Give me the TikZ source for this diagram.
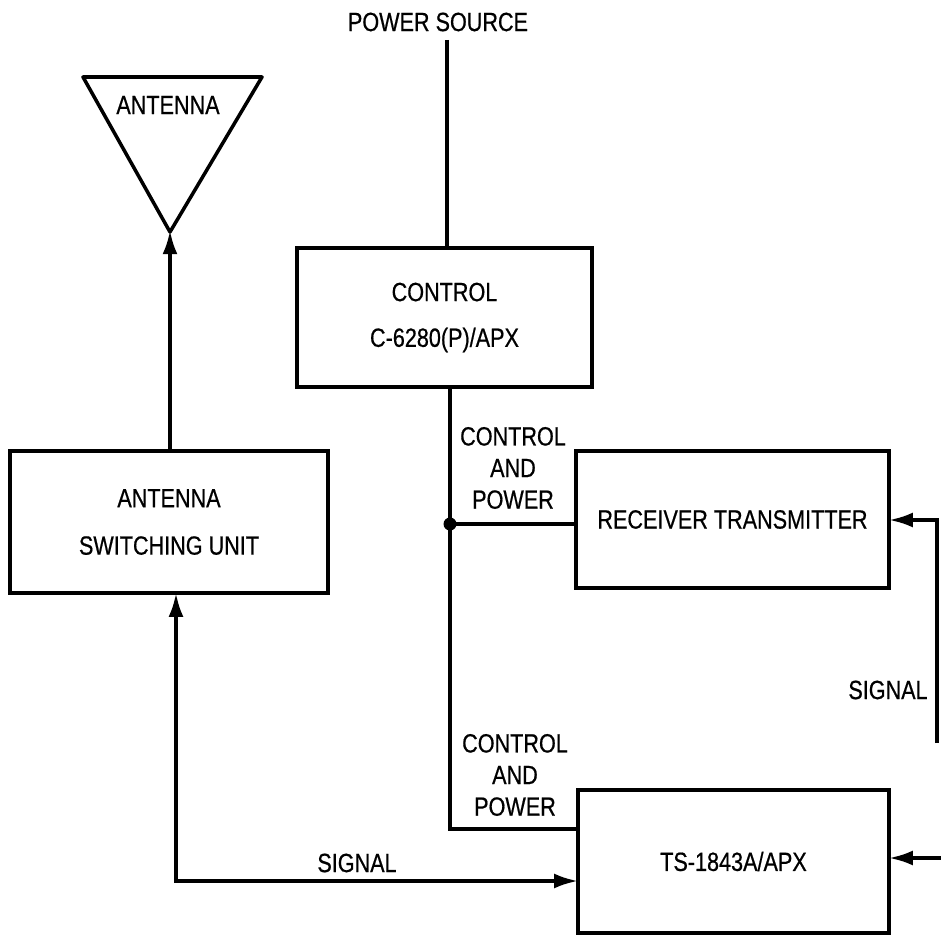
\documentclass[tikz,border=0pt]{standalone}
\usepackage{fontspec}
\setmainfont{Liberation Sans}[FakeStretch=0.82, FakeBold=0.6]
\usetikzlibrary{arrows.meta,positioning,calc}

\begin{document}
\begin{tikzpicture}[x=0.02cm, y=-0.02cm,
    unit/.style={rectangle, draw, line width=2pt, align=center, inner sep=0pt, font=\fontsize{15}{18}\selectfont},
    label/.style={align=center, inner sep=1pt, font=\fontsize{15}{18}\selectfont},
    line/.style={draw, line width=2pt},
    arrowline/.style={line, shorten >=-1pt, -{Latex[length=0.48cm, width=0.3cm]}},
    bothline/.style={line, shorten >=-1pt, shorten <=-1pt, {Latex[length=0.48cm, width=0.3cm]}-{Latex[length=0.48cm, width=0.3cm]}}]

    \useasboundingbox (0,0) rectangle (941,936);

    \node [unit, minimum width=5.9cm, minimum height=2.78cm] (control) at (444.5,317.5) {CONTROL\\[8pt]C-6280(P)/APX};
    \node [unit, minimum width=6.36cm, minimum height=2.84cm] (asu) at (169,522) {ANTENNA\\[9pt]SWITCHING UNIT};
    \node [unit, minimum width=6.26cm, minimum height=2.74cm] (rt) at (732.5,519.5) {RECEIVER TRANSMITTER};
    \node [unit, minimum width=6.22cm, minimum height=2.86cm] (ts) at (733.5,861.5) {TS-1843A/APX};

    \coordinate (antL) at (83,77);
    \coordinate (antR) at (262,77);
    \coordinate (antTip) at (170,232);
    \draw [line, line join=round] (antL) -- (antR) -- (antTip) -- cycle;
    \node [label] (antenna) at (168,105) {ANTENNA};

    \node [label] (power) at (438,22) {POWER SOURCE};
    \coordinate (powertop) at (447,40);
    \draw [line] (powertop) -- (powertop |- control.north);

    \draw [arrowline] (asu.north -| antTip) -- (antTip);

    \coordinate (junc) at (450,524);
    \coordinate (cpcorner) at (450,829);
    \draw [line] (control.south -| junc) |- (ts.west |- cpcorner);
    \draw [line] (junc) -- (rt.west |- junc);
    \fill (junc) circle [radius=0.13cm];
    \node [label] (cp1) at (513,468) {CONTROL\\AND\\POWER};
    \node [label] (cp2) at (515,775) {CONTROL\\AND\\POWER};

    \coordinate (sigcorner) at (176,881);
    \draw [bothline] (asu.south -| sigcorner) |- (ts.west |- sigcorner);
    \node [label] (sig1) at (357,863) {SIGNAL};

    \coordinate (sigend) at (937,743);
    \draw [arrowline] (sigend) |- (rt.east |- 0,520);
    \node [label] (sig2) at (888,690) {SIGNAL};

    \coordinate (tsin) at (941,858);
    \draw [arrowline] (tsin) -- (ts.east |- tsin);
\end{tikzpicture}
\end{document}
